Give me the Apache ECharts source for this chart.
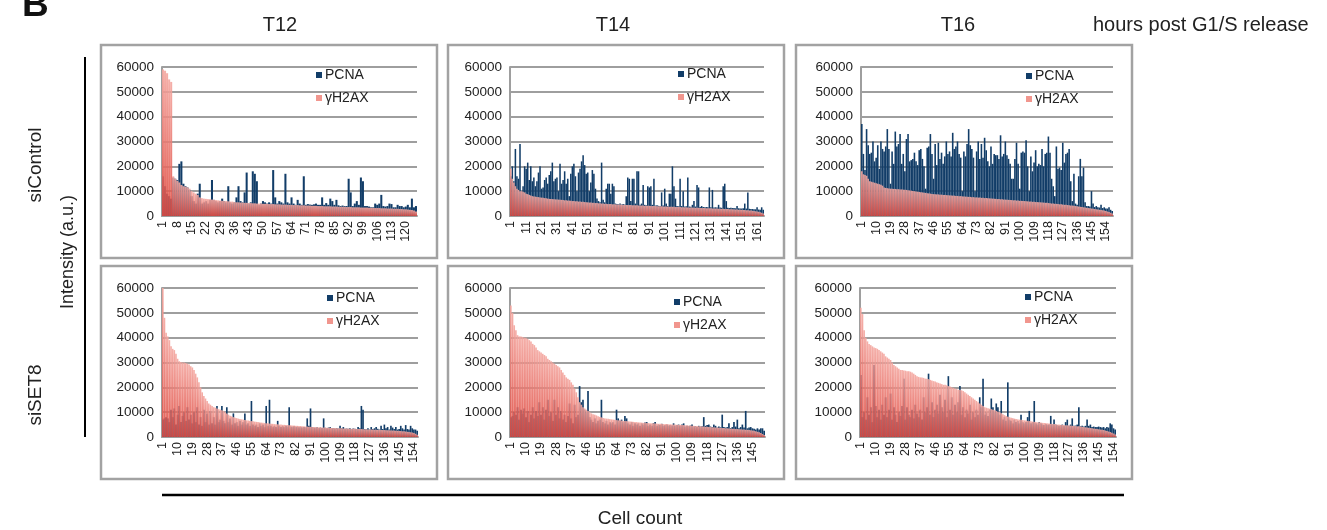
<!DOCTYPE html>
<html>
<head>
<meta charset="utf-8">
<script src="https://cdn.jsdelivr.net/npm/echarts@6/dist/echarts.min.js"></script>
<style>
html, body { margin: 0; padding: 0; background: #fff; }
#chart { width: 1327px; height: 530px; }
</style>
</head>
<body>
<div id="chart"></div>
<script>
// intensities per cell, sorted by γH2AX
var t12CtrlH2ax = [59000,58500,57500,55000,54000,16000,15000,14200,13500,12500,
	12000,11800,11500,11000,10000,9500,9000,8500,7500,7200,
	7000,6900,6800,6700,6600,6500,6400,6300,6200,6100,
	6000,6000,5900,5800,5800,5600,5500,5500,5400,5400,
	5300,5300,5200,5200,5100,5100,5000,5000,5000,4900,
	4900,4900,4800,4800,4800,4700,4700,4700,4600,4600,
	4600,4500,4500,4500,4400,4400,4400,4300,4300,4300,
	4200,4200,4200,4100,4100,4100,4000,4000,4000,3900,
	3900,3900,3900,3800,3800,3800,3700,3700,3700,3700,
	3600,3600,3600,3500,3500,3500,3500,3400,3400,3400,
	3400,3300,3300,3300,3200,3200,3200,3100,3100,3100,
	3000,3000,3000,2900,2900,2900,2800,2800,2700,2700,
	2600,2500,2400,2200,1800];
var t12CtrlPcna = [16000,12000,9000,8000,7000,15500,15000,14500,21000,22000,
	13000,12000,11500,10500,8000,6000,5000,9000,13000,5000,
	5500,6000,5000,6500,14500,6500,6000,5500,6000,7000,
	6000,5500,12000,5500,5000,5500,7500,12000,6000,5500,
	9500,17500,5000,5500,18000,17000,14000,4500,5000,6000,
	5500,5000,5500,5000,18500,7500,5000,6000,5500,5000,
	17000,5500,5000,7500,5000,4500,6500,5000,4500,16000,
	4500,4800,4600,4500,4700,5000,4500,4500,7500,4500,
	5200,4500,7000,6000,4500,6500,4300,4000,4200,4000,
	4000,15000,9500,4000,5000,6000,4500,15500,14000,4000,
	4000,3800,3500,3500,5000,4500,5000,8500,4000,3800,
	4000,5000,4800,3500,3500,4500,4000,4000,3500,3800,
	4500,3500,7000,3500,4000];

var t14CtrlH2ax = [19000,15000,13500,12000,11000,10500,10000,10000,9800,9500,
	9000,8800,8500,8300,8000,7900,7800,7700,7600,7500,
	7400,7300,7200,7100,7000,6900,6800,6800,6700,6700,
	6600,6600,6500,6500,6400,6300,6300,6200,6200,6100,
	6000,6000,5900,5900,5800,5800,5700,5700,5600,5500,
	5500,5400,5400,5300,5300,5200,5200,5100,5100,5000,
	5000,4900,4900,4800,4800,4800,4700,4700,4700,4600,
	4600,4600,4500,4500,4500,4400,4400,4400,4400,4300,
	4300,4300,4300,4200,4200,4200,4200,4100,4100,4100,
	4100,4000,4000,4000,4000,3900,3900,3900,3900,3800,
	3800,3800,3800,3700,3700,3700,3700,3600,3600,3600,
	3600,3500,3500,3500,3500,3400,3400,3400,3400,3300,
	3300,3300,3300,3200,3200,3200,3200,3100,3100,3100,
	3100,3000,3000,3000,3000,2900,2900,2900,2900,2800,
	2800,2800,2700,2700,2700,2600,2600,2600,2500,2500,
	2500,2400,2400,2300,2300,2200,2200,2100,2000,1900,
	1800,1700,1500,1300,1000];
var t14CtrlPcna = [16000,20000,14000,27000,16000,15000,29000,10000,12000,20000,
	19000,21500,14500,20000,14000,15500,12000,14000,17500,20000,
	11000,11500,14500,15500,13000,16500,18000,21500,14000,15000,
	15500,10000,21000,13000,14500,18000,13000,15000,8000,17000,
	20000,21000,16000,10000,17500,19000,22000,24500,20500,17000,
	17500,10000,13500,18500,17000,11000,7000,6000,5500,21500,
	6500,5500,11000,13000,13000,9000,13000,12000,5000,4800,
	4700,5000,4600,4800,4600,8000,15500,15000,6000,15000,
	15000,5000,18000,18000,4500,5000,12500,4500,4300,12000,
	11500,12000,4500,15000,4200,4300,4100,4000,9500,4200,
	11000,5000,4000,9000,9000,20000,12000,7000,4000,3900,
	15000,4000,10000,3800,3900,15500,3800,3700,4500,6000,
	3800,12500,11500,3600,4000,3600,3500,3600,3500,11500,
	3500,10500,3400,3500,3400,4500,3400,3300,12000,13000,
	6000,3300,3200,3300,3200,3200,3100,4000,3100,3000,
	3000,3100,5000,3000,9500,2900,2800,2800,2700,2700,
	3500,2600,2500,3500,2500];

var t16CtrlH2ax = [18000,16800,16500,16200,15000,14000,13800,13600,13400,13200,
	13000,12800,12600,12200,11500,11300,11200,11100,11000,11000,
	10900,10900,10800,10800,10700,10700,10600,10600,10500,10400,
	10300,10200,10100,10000,9900,9800,9700,9600,9500,9400,
	9300,9200,9100,9000,8900,8800,8800,8700,8700,8600,
	8600,8500,8500,8400,8400,8300,8300,8200,8200,8100,
	8100,8000,8000,7900,7900,7800,7800,7700,7700,7600,
	7600,7500,7500,7400,7400,7300,7300,7200,7200,7100,
	7100,7000,7000,6900,6900,6800,6800,6700,6700,6600,
	6600,6500,6500,6400,6400,6300,6300,6200,6200,6100,
	6100,6000,6000,5900,5900,5800,5800,5700,5700,5600,
	5600,5500,5500,5400,5400,5300,5300,5200,5100,5000,
	5000,4900,4900,4800,4700,4700,4600,4500,4500,4400,
	4300,4200,4200,4100,4000,3900,3800,3700,3600,3500,
	3400,3300,3200,3100,3000,2900,2800,2700,2600,2500,
	2400,2300,2200,2000,1800,1600,1300,1000];
var t16CtrlPcna = [37000,25000,18500,35000,28500,25000,25500,30000,22000,23500,
	28500,19000,30000,27000,26000,28000,35000,27000,13000,26000,
	21000,34000,28000,29000,33000,21000,25000,18000,31000,33000,
	22000,22500,23000,25500,22000,20500,26500,27000,23000,20000,
	11000,27500,28000,33000,25000,15000,29000,20500,29500,23000,
	25500,21000,24000,30000,25000,26000,24000,33500,27000,28000,
	30000,25000,23500,10000,26000,24000,29000,35000,28500,27000,
	23500,10000,26000,30000,23000,29000,23500,31500,26500,22000,
	20000,28000,21000,25000,24500,24500,23000,32500,24000,25000,
	30000,24500,23000,21000,15000,15000,23000,29500,21000,11000,
	25500,26000,25500,30500,20000,10000,24000,18000,21500,26500,
	20000,21000,20500,27000,20000,25000,25500,32000,25500,15000,
	12000,8000,28000,19000,19500,18500,29500,21500,25000,25500,
	27000,14000,6000,17000,5000,4500,16000,23000,16000,19500,
	5500,4000,4000,3800,10000,5000,3600,4000,3500,3400,
	4500,3200,3500,3000,3000,3500,2500,2000];

var t12Set8H2ax = [60000,48000,42000,40500,39000,36500,35500,35000,33500,31500,
	30500,30200,30000,30000,29800,29500,29200,28500,28000,27000,
	25500,24000,22000,20000,18000,16500,15500,14500,13500,13000,
	12500,12000,11800,11500,11200,11000,10800,10500,10000,9500,
	9000,8600,8300,8000,7800,7600,7400,7200,7100,7000,
	6800,6700,6600,6500,6400,6300,6200,6100,6000,5900,
	5800,5700,5600,5500,5500,5400,5300,5300,5200,5100,
	5100,5000,5000,4900,4900,4800,4800,4700,4700,4600,
	4600,4500,4500,4400,4400,4300,4300,4200,4200,4100,
	4100,4000,4000,4000,3900,3900,3900,3800,3800,3800,
	3700,3700,3700,3600,3600,3600,3500,3500,3500,3500,
	3400,3400,3400,3400,3300,3300,3300,3300,3200,3200,
	3200,3200,3100,3100,3100,3000,3000,3000,3000,2900,
	2900,2900,2900,2800,2800,2800,2700,2700,2700,2600,
	2600,2600,2500,2500,2400,2400,2300,2300,2200,2100,
	2000,1900,1800,1600,1300,900];
var t12Set8Pcna = [7000,7500,8000,7500,6000,11000,8000,11500,5000,9000,
	12500,6000,8500,10000,6500,12000,7000,9000,5500,10000,
	6000,12000,5000,8000,4500,11000,6000,9500,5000,10500,
	5500,8000,5000,12500,6000,7000,12500,6500,5500,12000,
	6000,7500,5000,9500,5500,6000,4500,6500,5000,6000,
	9500,5000,5500,4500,14500,5000,4500,5000,4000,5500,
	4500,5000,4000,12500,4500,15000,4500,4000,4500,4000,
	6500,4500,4000,4500,4000,4500,4200,12000,4200,4000,
	4300,4000,4200,3900,4100,3800,4000,3900,7500,4500,
	11500,4000,3800,3700,3900,3600,3800,3600,7500,3700,
	3500,3800,4000,3500,3600,3400,3500,3400,4500,3500,
	4000,3300,3400,3300,3500,3200,3400,3300,3200,4000,
	3500,12500,11000,3200,3100,3500,3000,4000,3200,3500,
	4000,3300,3000,4500,3200,5000,3500,4000,3000,4500,
	3800,3200,4000,3000,3200,4500,3500,3000,4800,3200,
	3000,4500,3500,3000,3000,2500];

var t14Set8H2ax = [53000,50000,45000,43000,41000,40500,40500,40300,40000,40000,
	39500,39000,38500,37500,37000,36000,35000,34500,34000,33500,
	33000,32500,31500,31000,30500,30000,29500,29000,28500,28000,
	27000,26000,25000,24000,23500,23000,22000,21000,19500,18000,
	16000,14000,13000,12000,11500,11000,10500,10000,9500,9200,
	9000,8700,8400,8100,7900,7700,7500,7400,7300,7200,
	7100,7000,6900,6800,6700,6700,6600,6500,6400,6400,
	6300,6200,6200,6100,6000,6000,5900,5800,5800,5700,
	5700,5600,5600,5500,5500,5500,5400,5400,5300,5300,
	5300,5200,5200,5200,5100,5100,5000,5000,5000,4900,
	4900,4900,4800,4800,4700,4700,4600,4600,4500,4500,
	4400,4400,4300,4300,4200,4200,4100,4100,4000,4000,
	3900,3900,3800,3800,3700,3700,3600,3600,3500,3500,
	3400,3400,3300,3300,3200,3200,3100,3100,3000,3000,
	2900,2900,2800,2700,2600,2500,2300,2100,1900,1600,
	1200,800];
var t14Set8Pcna = [8000,8500,10000,9000,12000,7000,11000,9500,11500,8000,
	10500,6000,9000,12000,7500,10500,8500,14000,9000,12000,
	7000,11000,15000,8500,10000,6500,15000,9000,12000,7500,
	10500,7000,9000,6000,8500,13500,7500,5500,13000,8000,
	9000,20500,14000,15000,11000,10000,18500,8000,7000,6000,
	7500,5500,6500,7000,15000,6000,5500,6500,5000,6000,
	5500,6000,5000,11000,7500,6500,7000,6000,8500,7500,
	5500,5000,6000,4500,5500,5000,5500,4500,5500,5000,
	5800,6000,4500,5000,4500,5600,6000,4500,5000,4800,
	5300,4500,4800,5000,4500,4800,4600,5500,4500,4800,
	5000,4500,5000,5500,4200,4500,4400,4600,5000,4200,
	4400,4000,4500,4200,4300,8000,4500,4800,5000,4200,
	4000,5000,4500,3800,4200,3900,9000,4000,3800,4000,
	5500,3600,4000,6000,4200,7000,3500,4000,5000,3800,
	10500,3500,3800,4000,3500,3300,3000,3500,3000,3500,
	3500,2500];

var t16Set8H2ax = [52000,49500,43000,40000,38500,37500,37000,36500,36000,35800,
	35500,35000,34500,34000,33500,32500,32000,31500,31000,30000,
	29000,28500,28000,27500,27000,27000,26800,26700,26500,26500,
	26300,26000,25500,25000,24500,24200,24000,24000,23800,23500,
	23500,23300,23000,22800,22500,22300,22000,21800,21500,21300,
	21000,21000,20800,20500,20300,20000,19800,19500,19300,19000,
	19000,18800,18500,18000,17500,17000,16500,16000,15500,15000,
	14500,14000,13500,13000,12500,12000,11800,11600,11400,11200,
	11000,10800,10500,10200,10000,9600,9200,8800,8500,8200,
	8000,7800,7600,7400,7200,7100,7000,6900,6800,6700,
	6600,6500,6400,6300,6200,6100,6000,5900,5900,5800,
	5700,5600,5600,5500,5400,5300,5200,5200,5100,5000,
	5000,4900,4900,4800,4700,4700,4600,4600,4500,4400,
	4400,4300,4300,4200,4100,4000,3900,3800,3700,3600,
	3500,3400,3300,3200,3100,3000,2900,2800,2600,2400,
	2200,2000,1700,1400,1000];
var t16Set8Pcna = [25000,8000,10000,7000,16000,9000,12000,6000,29000,12500,
	8000,11000,7000,13000,9000,16000,8000,11000,17500,7000,
	12000,9000,6000,10000,8500,12500,23500,7000,12000,9000,
	8000,11000,7500,13000,9500,8000,11000,7000,16000,10000,
	12000,25500,9000,14000,8000,11000,13000,9500,17000,12000,
	10000,15000,8000,24500,11000,16000,9000,13000,10000,14000,
	20500,9000,12000,8000,11000,9500,13000,7000,10000,8000,
	11000,9000,16000,12000,23500,9000,10000,8500,11000,15500,
	12000,10000,13500,12000,9000,14500,7000,8000,6500,22000,
	7000,6500,5500,7000,6000,6500,5500,9000,6000,5500,
	6000,8000,10500,5500,6000,14500,5500,5000,6000,5500,
	5000,4800,5200,4800,5000,8500,5000,7000,5000,4800,
	4500,4800,5000,4500,6000,7000,4500,5000,7500,4500,
	4600,5000,12000,4300,4500,4200,4500,7000,4500,5000,
	4000,4200,4000,4000,4200,4000,3800,4000,3500,4000,
	3800,5500,5000,3500,3000];

var columnTitles = ['T12', 'T14', 'T16'];
var rowTitles = ['siControl', 'siSET8'];

var navy = '#123d68';
var salmon = new echarts.graphic.LinearGradient(0, 0, 0, 1, [
	{ offset: 0, color: '#f4a7a0' },
	{ offset: 1, color: '#e04b41' }
]);
var fontFamily = 'Liberation Sans, Arial, Helvetica, sans-serif';

var panels = [
	{ pcna: t12CtrlPcna, h2ax: t12CtrlH2ax, left: 162, top: 67, width: 255, every: 6, lx: 316, ly: 68 },
	{ pcna: t14CtrlPcna, h2ax: t14CtrlH2ax, left: 510, top: 67, width: 254, every: 9, lx: 678, ly: 67 },
	{ pcna: t16CtrlPcna, h2ax: t16CtrlH2ax, left: 861, top: 67, width: 252, every: 8, lx: 1026, ly: 69 },
	{ pcna: t12Set8Pcna, h2ax: t12Set8H2ax, left: 162, top: 288, width: 256, every: 8, lx: 327, ly: 291 },
	{ pcna: t14Set8Pcna, h2ax: t14Set8H2ax, left: 510, top: 288, width: 255, every: 8, lx: 674, ly: 295 },
	{ pcna: t16Set8Pcna, h2ax: t16Set8H2ax, left: 860, top: 288, width: 256, every: 8, lx: 1025, ly: 290 }
];

var grids = [], xAxes = [], yAxes = [], series = [], legends = [];
for (var i = 0; i < panels.length; i++) {
	var p = panels[i];
	var cats = [];
	for (var k = 0; k < p.pcna.length; k++) {
		cats.push(String(k + 1));
	}
	grids.push({ left: p.left, top: p.top, width: p.width, height: 149 });
	xAxes.push({
		type: 'category', gridIndex: i, data: cats,
		axisLine: { lineStyle: { color: '#9e9e9e', width: 2 } },
		axisTick: { show: false },
		axisLabel: { rotate: 90, interval: p.every, fontSize: 12.5, color: '#222', margin: 5, fontFamily: fontFamily }
	});
	// second axis on the same grid so the γH2AX bars sit on top of the PCNA ones
	xAxes.push({ type: 'category', gridIndex: i, data: cats, show: false });
	yAxes.push({
		type: 'value', gridIndex: i, min: 0, max: 60000, interval: 10000,
		axisLine: { show: true, lineStyle: { color: '#9e9e9e', width: 2 } },
		axisTick: { show: false },
		axisLabel: {
			fontSize: 13.5, color: '#222', margin: 8, fontFamily: fontFamily,
			formatter: function (v) { return String(v); }
		},
		splitLine: { lineStyle: { color: '#9e9e9e', width: 2 } }
	});
	series.push({
		name: 'PCNA', type: 'bar', xAxisIndex: 2 * i, yAxisIndex: i,
		data: p.pcna, barCategoryGap: '0%', itemStyle: { color: navy }, silent: true
	});
	series.push({
		name: 'γH2AX', type: 'bar', xAxisIndex: 2 * i + 1, yAxisIndex: i,
		data: p.h2ax, barCategoryGap: '0%', itemStyle: { color: salmon, opacity: 0.9 }, silent: true
	});
	legends.push({
		data: [{ name: 'PCNA', itemStyle: { color: navy } }, { name: 'γH2AX', itemStyle: { color: '#f08b82' } }],
		orient: 'vertical', left: p.lx, top: p.ly, padding: 0,
		itemWidth: 6, itemHeight: 6, itemGap: 9, icon: 'rect', selectedMode: false,
		textStyle: { fontSize: 14, color: '#222', fontFamily: fontFamily, padding: [0, 0, 0, -2] }
	});
}

var graphics = [];
var boxX = [101, 448, 796];
var boxY = [45, 266];
for (var r = 0; r < 2; r++) {
	for (var c = 0; c < 3; c++) {
		graphics.push({
			type: 'rect', silent: true,
			shape: { x: boxX[c], y: boxY[r], width: 336, height: 213 },
			style: { fill: 'none', stroke: '#a2a2a2', lineWidth: 2.5 }
		});
	}
}
var titleX = [280, 613, 958];
for (var c = 0; c < 3; c++) {
	graphics.push({ type: 'text', x: titleX[c], y: 25, style: { text: columnTitles[c], font: '20px ' + fontFamily, fill: '#222', align: 'center', verticalAlign: 'middle' } });
}
graphics.push({ type: 'text', x: 1093, y: 25, style: { text: 'hours post G1/S release', font: '20px ' + fontFamily, fill: '#222', align: 'left', verticalAlign: 'middle' } });
graphics.push({ type: 'text', x: 22, y: 24, style: { text: 'B', font: 'bold 37px ' + fontFamily, fill: '#111', align: 'left', verticalAlign: 'bottom' } });
var rowY = [165, 395];
for (var r = 0; r < 2; r++) {
	graphics.push({ type: 'text', x: 36, y: rowY[r], rotation: Math.PI / 2, style: { text: rowTitles[r], font: '19px ' + fontFamily, fill: '#222', align: 'center', verticalAlign: 'middle' } });
}
graphics.push({ type: 'text', x: 68, y: 252, rotation: Math.PI / 2, style: { text: 'Intensity (a.u.)', font: '18px ' + fontFamily, fill: '#222', align: 'center', verticalAlign: 'middle' } });
graphics.push({ type: 'line', silent: true, shape: { x1: 85, y1: 57, x2: 85, y2: 437 }, style: { stroke: '#000', lineWidth: 2 } });
graphics.push({ type: 'line', silent: true, shape: { x1: 162, y1: 495, x2: 1124, y2: 495 }, style: { stroke: '#000', lineWidth: 2.5 } });
graphics.push({ type: 'text', x: 640, y: 519, style: { text: 'Cell count', font: '19px ' + fontFamily, fill: '#222', align: 'center', verticalAlign: 'middle' } });

var chart = echarts.init(document.getElementById('chart'));
chart.setOption({
	animation: false,
	textStyle: { fontFamily: fontFamily },
	grid: grids,
	xAxis: xAxes,
	yAxis: yAxes,
	legend: legends,
	series: series,
	graphic: graphics
});
</script>
</body>
</html>
